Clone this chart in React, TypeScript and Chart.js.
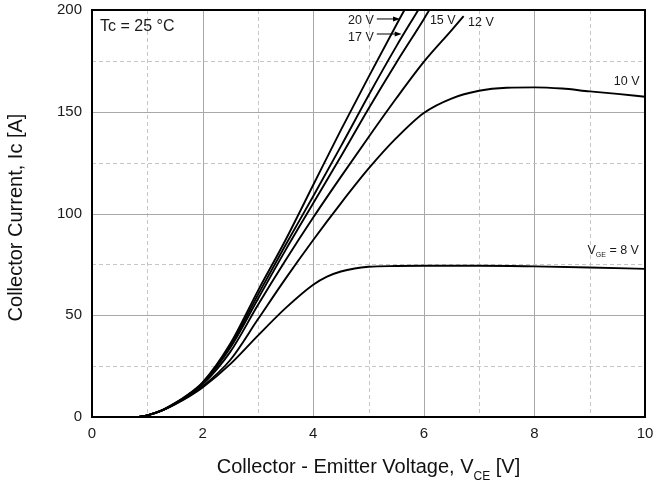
import React, { useEffect, useRef } from "react";
import { Chart, registerables } from "chart.js";

Chart.register(...registerables);

// ---- data (VCE [V], IC [A]) ----
const vce20 = [0.85, 1.0, 1.25, 1.5, 1.75, 2.0, 2.5, 3.0, 3.5, 4.0, 4.5, 5.0, 5.5, 5.65];
const ic20 = [0, 0.8, 3.1, 6.8, 11.3, 17, 36, 62, 87, 114, 141, 167, 192.5, 200];

const vce17 = [0.85, 1.0, 1.25, 1.5, 1.75, 2.0, 2.5, 3.0, 3.5, 4.0, 4.5, 5.0, 5.5, 5.9];
const ic17 = [0, 0.8, 3.1, 6.7, 11.1, 16.8, 35, 60, 84.5, 108.5, 133, 158, 182, 200];

const vce15 = [0.85, 1.0, 1.25, 1.5, 1.75, 2.0, 2.5, 3.0, 3.5, 4.0, 4.5, 5.0, 5.5, 6.0, 6.1];
const ic15 = [0, 0.8, 3.1, 6.6, 11, 16.5, 34, 58, 82, 105, 128, 151.5, 174, 195.5, 200];

const vce12 = [0.85, 1.0, 1.25, 1.5, 1.75, 2.0, 2.5, 3.0, 3.5, 4.0, 4.5, 5.0, 5.5, 6.0, 6.5, 6.72];
const ic12 = [0, 0.8, 3, 6.5, 10.8, 16, 32, 55, 77, 98, 118, 137.5, 156.5, 174.5, 190, 197];

const vce10 = [0.85, 1.0, 1.25, 1.5, 1.75, 2.0, 2.5, 3.0, 3.5, 4.0, 4.5, 5.0, 5.5, 6.0, 6.5, 7.0, 7.5, 8.0, 8.5, 9.0, 9.5, 10];
const ic10 = [0, 0.8, 3, 6.3, 10.3, 15, 28, 48, 68, 87, 105, 122, 137, 149.4, 156.5, 160.3, 161.8, 162, 161.4, 160, 158.8, 157.4];

const vce8 = [0.85, 1.0, 1.25, 1.5, 1.75, 2.0, 2.5, 3.0, 3.5, 4.0, 4.25, 4.5, 4.75, 5.0, 5.5, 6.0, 7.0, 8.0, 9.0, 10];
const ic8 = [0, 0.8, 3, 6.2, 10, 14.5, 26, 40, 53.5, 65, 69, 71.5, 73, 73.8, 74.2, 74.3, 74.3, 74, 73.5, 72.8];

const curveVce = [vce20, vce17, vce15, vce12, vce10, vce8];
const curveIc = [ic20, ic17, ic15, ic12, ic10, ic8];
const curveNames = ["20 V", "17 V", "15 V", "12 V", "10 V", "8 V"];

// tick values
const xMin = 0, xMax = 10, xStep = 2;
const yMin = 0, yMax = 200, yStep = 50;

// annotations (text, x in V, y in A, align)
const noteTexts = ["Tc = 25 °C", "20 V", "17 V", "15 V", "12 V", "10 V"];
const noteX = [0.145, 4.63, 4.63, 6.11, 6.8, 9.9];
const noteY = [191.9, 194.7, 186.6, 194.7, 194.0, 164.7];
const noteAlign = ["left", "left", "left", "left", "left", "right"];
const noteSize = [16, 12.5, 12.5, 12.5, 12.5, 12.5];

// arrows (from -> to) in data units
const arrowX0 = [5.15, 5.15];
const arrowX1 = [5.57, 5.6];
const arrowY = [195.6, 188.2];

const xTitle = "Collector - Emitter Voltage, V";
const xTitleSub = "CE";
const xTitleEnd = " [V]";
const yTitle = "Collector Current, Ic [A]";

const FONT = "'Liberation Sans', Arial, Helvetica, sans-serif";

const decor = {
  id: "decor",
  beforeDatasetsDraw(chart: any) {
    const { ctx, chartArea, scales } = chart;
    const { left, right, top, bottom } = chartArea;
    const x = scales.x, y = scales.y;
    ctx.save();
    for (let v = xMin + 1; v < xMax; v += 1) {
      const px = Math.round(x.getPixelForValue(v)) + 0.5;
      const major = v % xStep === 0;
      ctx.beginPath();
      ctx.lineWidth = 1;
      ctx.strokeStyle = major ? "#a8a8a8" : "#c6c6c6";
      ctx.setLineDash(major ? [] : [4, 3]);
      ctx.moveTo(px, top);
      ctx.lineTo(px, bottom);
      ctx.stroke();
    }
    for (let a = yMin + yStep / 2; a < yMax; a += yStep / 2) {
      const py = Math.round(y.getPixelForValue(a)) + 0.5;
      const major = a % yStep === 0;
      ctx.beginPath();
      ctx.lineWidth = 1;
      ctx.strokeStyle = major ? "#a8a8a8" : "#c6c6c6";
      ctx.setLineDash(major ? [] : [4, 3]);
      ctx.moveTo(left, py);
      ctx.lineTo(right, py);
      ctx.stroke();
    }
    ctx.restore();
  },
  afterDatasetsDraw(chart: any) {
    const { ctx, chartArea } = chart;
    const { left, right, top, bottom } = chartArea;
    ctx.save();
    ctx.strokeStyle = "#000";
    ctx.lineWidth = 2;
    ctx.setLineDash([]);
    ctx.strokeRect(left, top, right - left, bottom - top);
    ctx.restore();
  },
  afterDraw(chart: any) {
    const { ctx, chartArea, scales } = chart;
    const x = scales.x, y = scales.y;
    ctx.save();
    ctx.fillStyle = "#1a1a1a";
    ctx.textBaseline = "middle";
    noteTexts.forEach((t, i) => {
      ctx.font = `${noteSize[i]}px ${FONT}`;
      ctx.textAlign = noteAlign[i];
      ctx.fillText(t, x.getPixelForValue(noteX[i]), y.getPixelForValue(noteY[i]));
    });
    // V_GE = 8 V label (right aligned)
    {
      const rx = x.getPixelForValue(9.89);
      const cy = y.getPixelForValue(82);
      ctx.textAlign = "left";
      ctx.font = `12.5px ${FONT}`;
      const wV = ctx.measureText("V").width;
      const rest = " = 8 V";
      const wR = ctx.measureText(rest).width;
      ctx.font = `7px ${FONT}`;
      const wS = ctx.measureText("GE").width;
      let sx = rx - (wV + wS + wR);
      ctx.font = `12.5px ${FONT}`;
      ctx.fillText("V", sx, cy);
      sx += wV;
      ctx.font = `7px ${FONT}`;
      ctx.fillText("GE", sx, cy + 5);
      sx += wS;
      ctx.font = `12.5px ${FONT}`;
      ctx.fillText(rest, sx, cy);
    }
    // arrows
    ctx.strokeStyle = "#000";
    ctx.fillStyle = "#000";
    ctx.lineWidth = 1;
    arrowX0.forEach((x0, i) => {
      const p0 = x.getPixelForValue(x0);
      const p1 = x.getPixelForValue(arrowX1[i]);
      const py = y.getPixelForValue(arrowY[i]);
      ctx.beginPath();
      ctx.moveTo(p0, py);
      ctx.lineTo(p1 - 5, py);
      ctx.stroke();
      ctx.beginPath();
      ctx.moveTo(p1, py);
      ctx.lineTo(p1 - 7, py - 2.5);
      ctx.lineTo(p1 - 7, py + 2.5);
      ctx.closePath();
      ctx.fill();
    });
    // axis titles
    ctx.fillStyle = "#111";
    ctx.textBaseline = "alphabetic";
    const cx = (chartArea.left + chartArea.right) / 2;
    ctx.font = `20px ${FONT}`;
    const w1 = ctx.measureText(xTitle).width;
    const w3 = ctx.measureText(xTitleEnd).width;
    ctx.font = `12px ${FONT}`;
    const w2 = ctx.measureText(xTitleSub).width;
    let tx = cx - (w1 + w2 + w3) / 2;
    const base = 473;
    ctx.textAlign = "left";
    ctx.font = `20px ${FONT}`;
    ctx.fillText(xTitle, tx, base);
    tx += w1;
    ctx.font = `12px ${FONT}`;
    ctx.fillText(xTitleSub, tx, base + 7);
    tx += w2;
    ctx.font = `20px ${FONT}`;
    ctx.fillText(xTitleEnd, tx, base);

    ctx.save();
    ctx.translate(22, (chartArea.top + chartArea.bottom) / 2 + 4);
    ctx.rotate(-Math.PI / 2);
    ctx.textAlign = "center";
    ctx.font = `20px ${FONT}`;
    ctx.fillText(yTitle, 0, 0);
    ctx.restore();
    ctx.restore();
  },
};

export default function App() {
  const ref = useRef<HTMLCanvasElement | null>(null);
  useEffect(() => {
    if (!ref.current) return;
    const datasets = curveVce.map((xs, i) => ({
      label: curveNames[i],
      data: xs.map((v, j) => ({ x: v, y: curveIc[i][j] })),
      borderColor: "#000",
      borderWidth: 1.9,
      pointRadius: 0,
      fill: false,
      cubicInterpolationMode: "monotone" as const,
    }));
    const chart = new Chart(ref.current, {
      type: "line",
      data: { datasets },
      options: {
        responsive: false,
        animation: false,
        layout: { padding: { top: 10, right: 10, left: 0, bottom: 0 } },
        plugins: { legend: { display: false }, tooltip: { enabled: false } },
        scales: {
          x: {
            type: "linear",
            min: xMin,
            max: xMax,
            ticks: { stepSize: xStep, color: "#1a1a1a", padding: 8, font: { family: FONT, size: 15 } },
            grid: { display: false, drawTicks: false },
            border: { display: false },
            afterFit: (s: any) => {
              s.height = 66;
              s.paddingLeft = 0;
              s.paddingRight = 0;
            },
          },
          y: {
            type: "linear",
            min: yMin,
            max: yMax,
            ticks: { stepSize: yStep, color: "#1a1a1a", padding: 10, font: { family: FONT, size: 15 } },
            grid: { display: false, drawTicks: false },
            border: { display: false },
            afterFit: (s: any) => {
              s.width = 92;
              s.paddingTop = 0;
              s.paddingBottom = 0;
            },
          },
        },
      },
      plugins: [decor],
    });
    return () => chart.destroy();
  }, []);
  return (
    <div style={{ position: "fixed", left: 0, top: 0, width: 655, height: 483, background: "#fff" }}>
      <canvas ref={ref} width={655} height={483} style={{ display: "block" }} />
    </div>
  );
}
